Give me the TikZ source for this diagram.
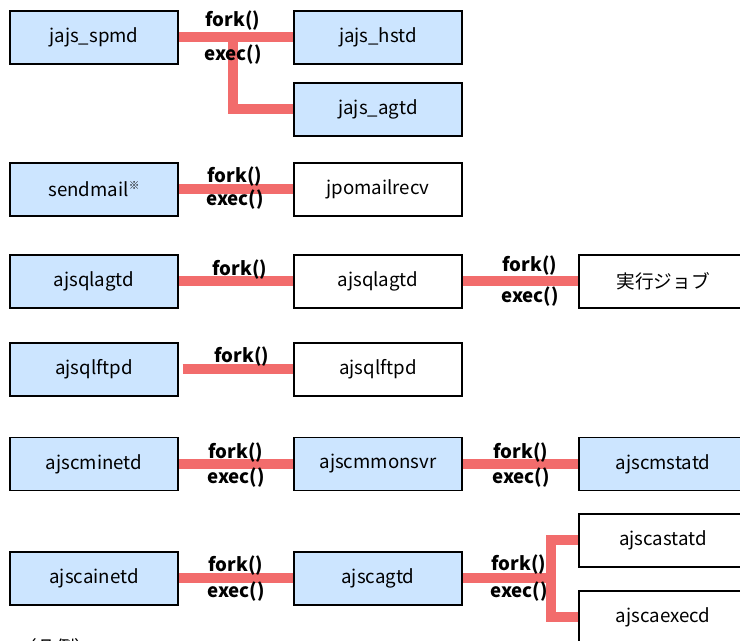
\documentclass[tikz,border=0pt]{standalone}
\usepackage{fontspec}
\setmainfont{Noto Sans CJK JP}
\usetikzlibrary{backgrounds}
\definecolor{procblue}{RGB}{204,229,255}
\definecolor{linkred}{RGB}{242,108,108}
\tikzset{
  proc/.style={draw=black, line width=1.1pt, rectangle, minimum width=126pt, minimum height=39.75pt,
               inner sep=0pt, font=\fontsize{14}{16}\selectfont},
  daemon/.style={proc, fill=procblue},
  link/.style={draw=linkred, line width=7.5pt},
  call/.style={font=\fontsize{14}{16}\selectfont\bfseries, inner sep=0pt}
}

\begin{document}
\begin{tikzpicture}[x=0.75pt, y=-0.75pt]
    \useasboundingbox (0,0) rectangle (740,641);
    \clip (0,0) rectangle (740,641);

    %Processes
    \node[daemon] (spmd)     at (94,37.5)   {jajs\_spmd};
    \node[daemon] (hstd)     at (378,37.5)  {jajs\_hstd};
    \node[daemon] (jagtd)    at (378,109.5) {jajs\_agtd};
    \node[daemon] (sendmail) at (94,189.5)  {sendmail\raisebox{0.7ex}{\fontsize{8}{8}\selectfont ※}};
    \node[proc]   (mailrecv) at (378,189.5) {jpomailrecv};
    \node[daemon] (lagtdA)   at (94,281.5)  {ajsqlagtd};
    \node[proc]   (lagtdB)   at (378,281.5) {ajsqlagtd};
    \node[proc]   (job)      at (663,281.5) {実行ジョブ};
    \node[daemon] (ftpdA)    at (94,369.5)  {ajsqlftpd};
    \node[proc]   (ftpdB)    at (378,369.5) {ajsqlftpd};
    \node[daemon] (minetd)   at (94,464)    {ajscminetd};
    \node[daemon] (monsvr)   at (378,464)   {ajscmmonsvr};
    \node[daemon] (mstatd)   at (663,464)   {ajscmstatd};
    \node[daemon] (ainetd)   at (94,578.5)  {ajscainetd};
    \node[daemon] (cagtd)    at (378,578.5) {ajscagtd};
    \node[proc]   (astatd)   at (663,540.5) {ajscastatd};
    \node[proc]   (aexecd)   at (663,617.5) {ajscaexecd};

    \coordinate (fork1) at (233,37.5);
    \coordinate (fork6) at (551,578.5);

    %Links
    \begin{scope}[on background layer]
    \draw[link] (spmd.east) -- (hstd.west);
    \draw[link] (fork1) |- (jagtd.west);
    \draw[link] (sendmail.east) -- (mailrecv.west);
    \draw[link] (lagtdA.east) -- (lagtdB.west);
    \draw[link] (lagtdB.east) -- (job.west);
    \draw[link] ([xshift=3]ftpdA.east) -- (ftpdB.west);
    \draw[link] (minetd.east) -- (monsvr.west);
    \draw[link] (monsvr.east) -- (mstatd.west);
    \draw[link] (ainetd.east) -- (cagtd.west);
    \draw[link] (cagtd.east) -- (fork6);
    \draw[link] (astatd.west) -| (fork6) |- (aexecd.west);
    \end{scope}

    %Calls
    \node[call] (f1) at (233,21)  {fork()};
    \node[call] (e1) at (233,55)  {exec()};
    \node[call] (f2) at (235,177) {fork()};
    \node[call] (e2) at (235,200) {exec()};
    \node[call] (f3) at (240,270) {fork()};
    \node[call] (f3b) at (530,266) {fork()};
    \node[call] (e3b) at (530,297) {exec()};
    \node[call] (f4) at (242,357) {fork()};
    \node[call] (f5) at (236,453) {fork()};
    \node[call] (e5) at (236,478) {exec()};
    \node[call] (f5b) at (521,453) {fork()};
    \node[call] (e5b) at (521,478) {exec()};
    \node[call] (f6) at (236,566) {fork()};
    \node[call] (e6) at (236,592) {exec()};
    \node[call] (f6b) at (519,565) {fork()};
    \node[call] (e6b) at (519,592) {exec()};

    \node[anchor=west, font=\fontsize{14}{16}\selectfont] (legend) at (14,647) {（凡例）};
\end{tikzpicture}
\end{document}
